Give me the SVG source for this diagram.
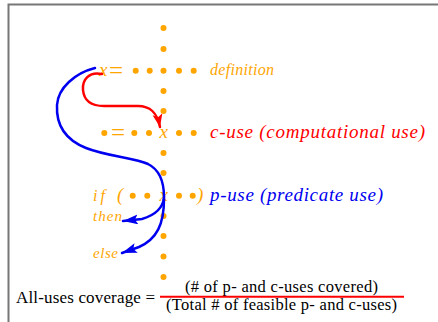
<svg xmlns="http://www.w3.org/2000/svg" width="438" height="322" viewBox="0 0 438 322">
<defs>
<style>
.dot{fill:#FFA500}
.or{fill:#FFA500;font-family:"Liberation Serif",serif;font-style:italic}
.eq{fill:#FFA500;font-family:"Liberation Serif",serif;font-size:25px}
.cu{fill:#FF0000;font-family:"Liberation Serif",serif;font-style:italic}
.pu{fill:#0000F0;font-family:"Liberation Serif",serif;font-style:italic}
.bk{fill:#000;font-family:"Liberation Serif",serif}
.blue{fill:none;stroke:#0000F0;stroke-width:2.5;stroke-linecap:round}
.red{fill:none;stroke:#FF0000;stroke-width:2.5;stroke-linecap:round}
</style>
<marker id="ab" markerUnits="userSpaceOnUse" markerWidth="18" markerHeight="12" refX="15" refY="5" orient="auto">
<path d="M0,0 L15,5 L0,10 L3,5 z" fill="#0000F0"/>
</marker>
<marker id="ar" markerUnits="userSpaceOnUse" markerWidth="18" markerHeight="12" refX="13" refY="5" orient="auto">
<path d="M0,0 L13,5 L0,10 L3,5 z" fill="#FF0000"/>
</marker>
</defs>
<rect width="438" height="322" fill="#fff"/>
<path d="M8.5,322 V4.5 H438" fill="none" stroke="#777" stroke-width="2"/>

<g id="column">
<circle class="dot" cx="163.5" cy="28" r="3"/>
<circle class="dot" cx="163.5" cy="49" r="3"/>
<circle class="dot" cx="163.5" cy="91" r="3"/>
<circle class="dot" cx="163.5" cy="111" r="3"/>
<circle class="dot" cx="163.5" cy="153" r="3"/>
<circle class="dot" cx="163.5" cy="173" r="3"/>
<circle class="dot" cx="163.5" cy="216" r="3"/>
<circle class="dot" cx="163.5" cy="236" r="3"/>
<circle class="dot" cx="163.5" cy="256.5" r="3"/>
<circle class="dot" cx="163.5" cy="277" r="3"/>
</g>

<g id="definition">
<text class="or" x="99" y="75.5" font-size="19">x</text>
<text class="eq" x="109" y="79">=</text>
<circle class="dot" cx="135.7" cy="70.7" r="3"/>
<circle class="dot" cx="149.7" cy="70.7" r="3"/>
<circle class="dot" cx="163.5" cy="70.7" r="3"/>
<circle class="dot" cx="179" cy="70.7" r="3"/>
<circle class="dot" cx="193.7" cy="70.7" r="3"/>
<text class="or" x="210" y="75" font-size="16" textLength="64" lengthAdjust="spacing">definition</text>
</g>

<g id="c-use">
<circle class="dot" cx="104.3" cy="133" r="3"/>
<text class="eq" x="111" y="141">=</text>
<circle class="dot" cx="134.3" cy="133" r="3"/>
<circle class="dot" cx="149" cy="133" r="3"/>
<text class="or" x="159.5" y="138" font-size="19">x</text>
<circle class="dot" cx="179" cy="133" r="3"/>
<circle class="dot" cx="193.7" cy="133" r="3"/>
<text class="cu" x="210" y="138" font-size="19" textLength="215" lengthAdjust="spacing">c-use (computational use)</text>
</g>

<g id="p-use">
<text class="or" x="93" y="200.5" font-size="16" textLength="12" lengthAdjust="spacing">if</text>
<text class="or" x="117" y="201" font-size="19" font-style="normal">(</text>
<circle class="dot" cx="132.7" cy="195.7" r="3"/>
<circle class="dot" cx="147.3" cy="195.7" r="3"/>
<text class="or" x="159.5" y="200.5" font-size="19">x</text>
<circle class="dot" cx="179" cy="195.7" r="3"/>
<circle class="dot" cx="192.7" cy="195.7" r="3"/>
<text class="or" x="197" y="201" font-size="19" font-style="normal">)</text>
<text class="pu" x="210" y="200.5" font-size="19" textLength="173" lengthAdjust="spacing">p-use (predicate use)</text>
</g>

<g id="then">
<text class="or" x="93" y="220.5" font-size="15" textLength="29" lengthAdjust="spacing">then</text>
</g>
<g id="else">
<text class="or" x="93" y="258" font-size="15" textLength="25" lengthAdjust="spacing">else</text>
</g>

<g id="formula">
<text class="bk" x="16" y="303" font-size="17" textLength="139" lengthAdjust="spacing">All-uses coverage =</text>
<text class="bk" x="185" y="291.5" font-size="16.5" textLength="193" lengthAdjust="spacing">(# of p- and c-uses covered)</text>
<line x1="160" y1="296.8" x2="404" y2="296.8" stroke="#FF0000" stroke-width="2"/>
<text class="bk" x="166" y="309.5" font-size="16.5" textLength="231" lengthAdjust="spacing">(Total # of feasible p- and c-uses)</text>
</g>

<g id="connectors">
<path class="red" d="M102,74 C89,71 82,80 83,90 C84,101 91,106 104,106 L138,106 C150,106 157,112 160,127" marker-end="url(#ar)"/>
<path class="blue" d="M95,68 C75,73 58,88 57,105 C56,125 66,140 86,148 C106,156 135,158 148,164 C160,170 164,184 164,197"/>
<path class="blue" d="M164,197 C163,210 152,216 142,219 L123,221" marker-end="url(#ab)"/>
<path class="blue" d="M164,199 C164,224 157,239 139,247 L122,253" marker-end="url(#ab)"/>
</g>
</svg>
